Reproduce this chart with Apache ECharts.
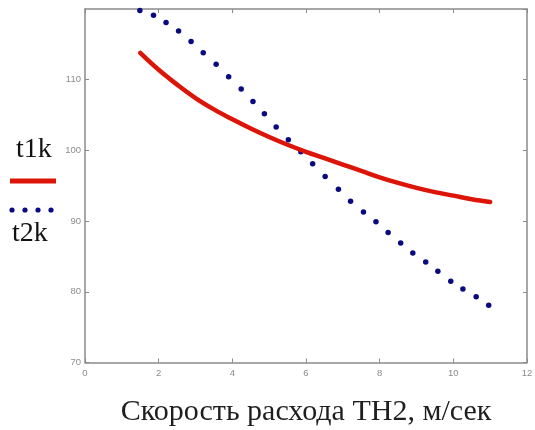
<!DOCTYPE html>
<html>
<head>
<meta charset="utf-8">
<script src="https://cdn.jsdelivr.net/npm/echarts@6/dist/echarts.min.js"></script>
<style>
html,body{margin:0;padding:0;background:#fff;}
#chart{width:535px;height:430px;}
</style>
</head>
<body>
<div id="chart"></div>
<script>
// t1k (red solid line)
const t1kX = [1.5, 2.0, 2.5, 3.0, 3.5, 4.0, 4.5, 5.0, 5.5, 6.0, 6.5, 7.0, 7.5, 8.0, 8.5, 9.0, 9.5, 10.0, 10.5, 11.0];
const t1kY = [113.8, 111.4, 109.3, 107.4, 105.8, 104.4, 103.1, 101.9, 100.8, 99.8, 98.9, 98.0, 97.1, 96.2, 95.4, 94.7, 94.1, 93.6, 93.1, 92.7];
// t2k (blue dotted points)
const t2kX = [1.49, 1.86, 2.20, 2.54, 2.88, 3.21, 3.56, 3.90, 4.24, 4.56, 4.87, 5.19, 5.52, 5.86, 6.18, 6.52, 6.88, 7.21, 7.56, 7.90, 8.23, 8.57, 8.90, 9.25, 9.58, 9.93, 10.26, 10.62, 10.96];
const t2kY = [119.8, 119.1, 118.1, 116.9, 115.4, 113.8, 112.2, 110.4, 108.7, 106.9, 105.2, 103.3, 101.5, 99.8, 98.1, 96.3, 94.5, 92.8, 91.3, 89.9, 88.4, 86.9, 85.5, 84.2, 82.9, 81.5, 80.4, 79.3, 78.1];
// axes
const xTicks = {min: 0, max: 12, step: 2};
const yTicks = {min: 70, max: 120, step: 10};
const xTitle = 'Скорость расхода ТН2, м/сек';
const legendNames = ['t1k', 't2k'];

const frameColor = '#8a8a8a';
const labelColor = '#8c8c8c';
const redColor = '#dd1508';
const blueColor = '#0a0a80';

const chart = echarts.init(document.getElementById('chart'), null, {renderer: 'canvas'});

function mkX(pos, showLabels, name) {
  return {
    type: 'value', position: pos, min: xTicks.min, max: xTicks.max, interval: xTicks.step,
    name: name || '', nameLocation: 'middle', nameGap: 35,
    nameTextStyle: {fontFamily: 'Liberation Serif', fontSize: 30, color: '#1e1e1e'},
    axisLine: {show: true, onZero: false, lineStyle: {color: frameColor, width: 1.5}},
    axisTick: {show: true, inside: true, length: 4, lineStyle: {color: frameColor, width: 1}},
    axisLabel: {show: showLabels, color: labelColor, fontSize: 9.5, fontFamily: 'Liberation Sans', margin: 6},
    splitLine: {show: false}
  };
}
function mkY(pos, showLabels) {
  return {
    type: 'value', position: pos, min: yTicks.min, max: yTicks.max, interval: yTicks.step,
    axisLine: {show: true, onZero: false, lineStyle: {color: frameColor, width: 1.5}},
    axisTick: {show: true, inside: true, length: 4, lineStyle: {color: frameColor, width: 1}},
    axisLabel: {show: showLabels, color: labelColor, fontSize: 9.5, fontFamily: 'Liberation Sans', margin: 4, showMaxLabel: false},
    splitLine: {show: false}
  };
}

const option = {
  backgroundColor: '#ffffff',
  animation: false,
  grid: {left: 85, right: 8, top: 9, bottom: 67.5, containLabel: false, outerBoundsMode: 'none'},
  xAxis: [mkX('bottom', true, xTitle), mkX('top', false)],
  yAxis: [mkY('left', true), mkY('right', false)],
  series: [
    {
      name: legendNames[0], type: 'line', xAxisIndex: 0, yAxisIndex: 0,
      data: t1kX.map((x, i) => [x, t1kY[i]]),
      smooth: 0.4, showSymbol: false,
      lineStyle: {color: redColor, width: 4.5, cap: 'round'}
    },
    {
      name: legendNames[1], type: 'scatter', xAxisIndex: 0, yAxisIndex: 0,
      data: t2kX.map((x, i) => [x, t2kY[i]]),
      symbol: 'circle', symbolSize: 5.5,
      itemStyle: {color: blueColor, opacity: 1}
    }
  ],
  graphic: [
    {type: 'text', left: 16, top: 136, style: {text: legendNames[0], fontFamily: 'Liberation Serif', fontSize: 28, fill: '#111'}},
    {type: 'line', shape: {x1: 10, y1: 181, x2: 56, y2: 181}, style: {stroke: redColor, lineWidth: 5}},
    {type: 'circle', shape: {cx: 12, cy: 210, r: 2.6}, style: {fill: blueColor}},
    {type: 'circle', shape: {cx: 25, cy: 210, r: 2.6}, style: {fill: blueColor}},
    {type: 'circle', shape: {cx: 38, cy: 210, r: 2.6}, style: {fill: blueColor}},
    {type: 'circle', shape: {cx: 51, cy: 210, r: 2.6}, style: {fill: blueColor}},
    {type: 'text', left: 12, top: 220, style: {text: legendNames[1], fontFamily: 'Liberation Serif', fontSize: 28, fill: '#111'}}
  ]
};
chart.setOption(option);
</script>
</body>
</html>
